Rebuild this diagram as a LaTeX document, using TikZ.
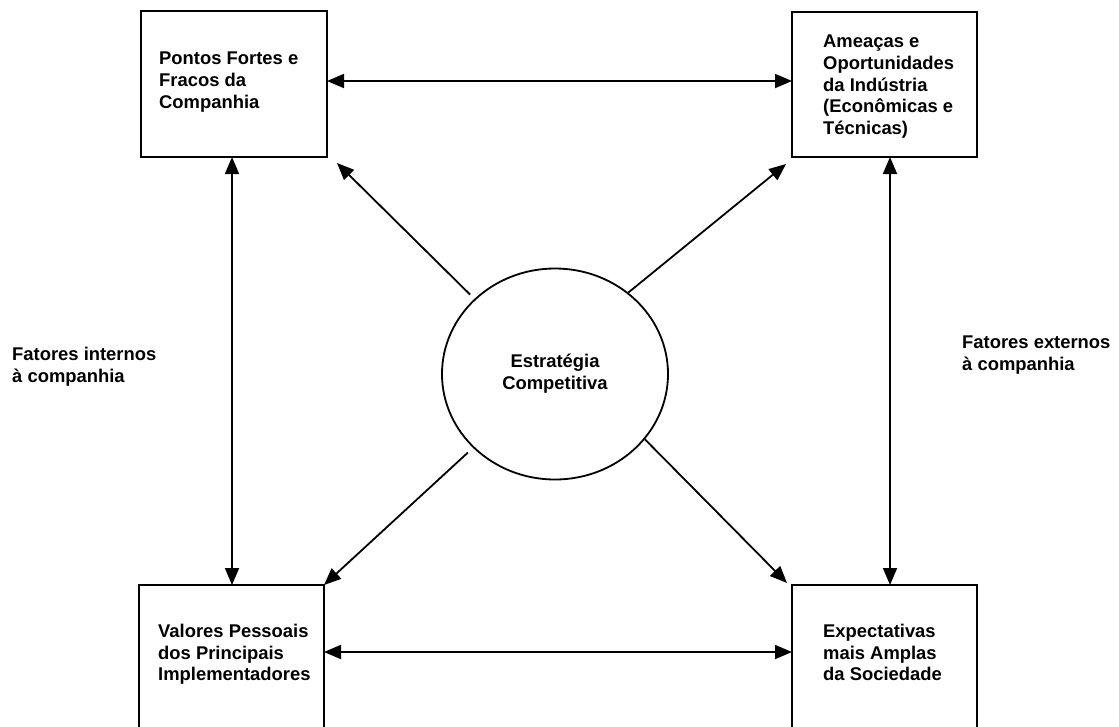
\documentclass[tikz,border=0pt]{standalone}
\usepackage{fontspec}
\setmainfont{Liberation Sans}
\usetikzlibrary{arrows.meta,shapes.geometric}
\begin{document}
\begin{tikzpicture}[x=1pt,y=-1pt,
  font=\fontsize{18.4}{21.7}\selectfont\bfseries,
  box/.style={draw,line width=1.8pt,rectangle,inner sep=0pt,outer sep=0pt,anchor=north west},
  txt/.style={inner sep=0pt,anchor=north west,align=left},
  link/.style={line width=1.8pt,-{Triangle[length=17pt,width=14pt]}},
  both/.style={line width=1.8pt,{Triangle[length=17pt,width=14pt]}-{Triangle[length=17pt,width=14pt]}}]
\useasboundingbox (0,0) rectangle (1119,726);
\clip (0,0) rectangle (1119,726);

% the four factor boxes (the lower two run past the bottom edge)
\node[box,minimum width=186pt,minimum height=146pt] (tl) at (141,11) {};
\node[box,minimum width=185pt,minimum height=145pt] (tr) at (792,12) {};
\node[box,minimum width=185pt,minimum height=170pt] (bl) at (139,585) {};
\node[box,minimum width=185pt,minimum height=170pt] (br) at (792,585) {};

% box texts
\node[txt] (tlt) at (159,52) {Pontos Fortes e\\Fracos da\\Companhia};
\node[txt] (trt) at (823,35) {Ameaças e\\Oportunidades\\da Indústria\\(Econômicas e\\Técnicas)};
\node[txt] (blt) at (158,624) {Valores Pessoais\\dos Principais\\Implementadores};
\node[txt] (brt) at (823,624) {Expectativas\\mais Amplas\\da Sociedade};

% central strategy
\node[draw,ellipse,line width=1.8pt,minimum width=226pt,minimum height=211pt,
      inner sep=0pt,align=center] (core) at (555,374) {Estratégia\\Competitiva};

% side labels
\node[txt] (inner) at (12,347) {Fatores internos\\à companhia};
\node[txt] (outer) at (962,336) {Fatores externos\\à companhia};

% links between the boxes
\draw[both] (tl.east |- 0,81) -- (tr.west |- 0,81);
\draw[both] (bl.east |- 0,652) -- (br.west |- 0,652);
\draw[both] (232,0 |- tl.south) -- (232,0 |- bl.north);
\draw[both] (890,0 |- tr.south) -- (890,0 |- br.north);

% links from the strategy outward
\coordinate (pTL) at (337,163);
\coordinate (pTR) at (786,164);
\coordinate (pBR) at (787,583);
\draw[link,shorten <=6pt] (core.137) -- (pTL);
\draw[link] (core.48) -- (pTR);
\draw[link,shorten <=7pt] (core.222) -- (bl.north east);
\draw[link] (core.-36) -- (pBR);
\end{tikzpicture}
\end{document}
